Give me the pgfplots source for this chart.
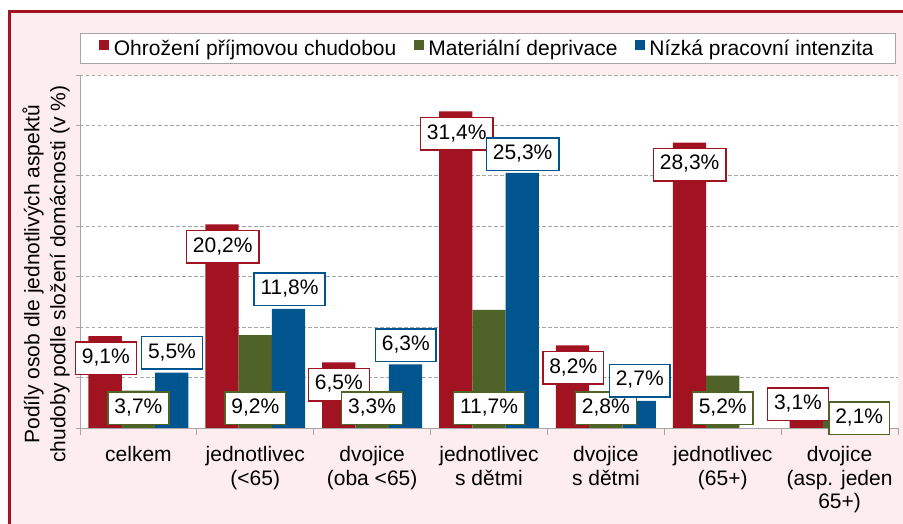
\documentclass[border=0pt]{standalone}
\usepackage{fontspec}
\setmainfont{Liberation Sans}
\usepackage{pgfplots}
\pgfplotsset{compat=1.18}
\definecolor{cred}{HTML}{A21321}
\definecolor{cgreen}{HTML}{4F6228}
\definecolor{cblue}{HTML}{00558F}
\definecolor{bgpink}{HTML}{FDEDEE}
\definecolor{lgray}{HTML}{A6A6A6}
\pgfplotsset{
  mybar/.style={ybar, bar width=0.285, draw=none,
    legend image code/.code={\fill[##1, draw=none] (0pt,-1.5pt) rectangle (10pt,8.5pt); \path (12pt,0pt);}},
  lbl/.style={only marks, mark=none, forget plot,
    point meta=explicit symbolic,
    nodes near coords={\pgfplotspointmeta\%},
    every node near coord/.append style={anchor=center, draw=#1, line width=1.5pt,
      fill=white, text=black, inner xsep=6.5pt, inner ysep=6.5pt,
      text height=15pt, text depth=4.5pt, font=\fontsize{21}{24}\selectfont}},
}
\begin{document}
\begin{tikzpicture}
\useasboundingbox (0pt,0pt) rectangle (903pt,524pt);
\fill[white] (0pt,0pt) rectangle (903pt,524pt);
\fill[bgpink] (9pt,0pt) rectangle (903pt,512pt);
\draw[cred, line width=3pt] (9.5pt,0pt) -- (9.5pt,512pt) -- (903pt,512pt);
\begin{axis}[
  at={(80pt,96pt)}, anchor=south west,
  scale only axis, width=818pt, height=353pt,
  xmin=-0.5, xmax=6.5, ymin=0, ymax=35,
  clip=false,
  axis background/.style={fill=white},
  axis x line*=bottom, axis y line*=left,
  axis line style={lgray, line width=0.8pt},
  tick align=outside,
  major tick length=4pt,
  ytick={0,5,...,35}, yticklabels={},
  ytick style={draw=lgray, line width=0.8pt},
  ymajorgrids,
  grid style={lgray, line width=0.8pt, dash pattern=on 3.5pt off 2.5pt},
  xtick={0,...,6},
  xticklabels={celkem, {jednotlivec\\(<65)}, {dvojice\\(oba <65)}, {jednotlivec\\s dětmi}, {dvojice\\s dětmi}, {jednotlivec\\(65+)}, {dvojice\\(asp. jeden\\65+)}},
  xtick style={draw=none},
  xticklabel style={align=center, font=\fontsize{21}{23.5}\selectfont, yshift=-11pt},
  extra x ticks={-0.5,0.5,...,6.5},
  extra x tick labels={},
  extra x tick style={major tick length=7pt, xtick style={draw=lgray, line width=0.8pt}},
  ylabel={Podíly osob dle jednotlivých aspektů\\chudoby podle složení domácnosti (v \%)},
  ylabel style={align=center, font=\fontsize{21}{26}\selectfont,
    at={(axis description cs:-0.0416,0.436)}, anchor=center},
  legend columns=3,
  legend style={at={(axis description cs:0,1.119)}, anchor=north west,
    draw=lgray, line width=0.8pt, fill=white, font=\fontsize{21}{24}\selectfont,
    inner xsep=19pt, inner ysep=4pt, nodes={inner sep=2.5pt},
    /tikz/every even column/.append style={column sep=15pt}},
]
\addplot[mybar, fill=cred, bar shift=-0.285] coordinates {(0,9.1) (1,20.2) (2,6.5) (3,31.4) (4,8.2) (5,28.3) (6,3.1)};
\addplot[mybar, fill=cgreen, bar shift=0] coordinates {(0,3.7) (1,9.2) (2,3.3) (3,11.7) (4,2.8) (5,5.2) (6,2.1)};
\addplot[mybar, fill=cblue, bar shift=0.285] coordinates {(0,5.5) (1,11.8) (2,6.3) (3,25.3) (4,2.7)};
\legend{Ohrožení příjmovou chudobou, Materiální deprivace, Nízká pracovní intenzita}
\addplot[lbl=cred] table[meta=l] {
x y l
-0.279 6.94 9,1
0.721 17.95 20,2
1.715 4.29 6,5
2.724 29.17 31,4
3.721 5.95 8,2
4.717 26.11 28,3
5.644 2.35 3,1
};
\addplot[lbl=cgreen] table[meta=l] {
x y l
0.0 1.98 3,7
1.0 1.98 9,2
2.0 1.98 3,3
3.0 1.98 11,7
4.0 1.98 2,8
5.0 1.98 5,2
6.168 0.99 2,1
};
\addplot[lbl=cblue] table[meta=l] {
x y l
0.287 7.44 5,5
1.293 13.76 11,8
2.288 8.18 6,3
3.288 27.15 25,3
4.290 4.69 2,7
};
\end{axis}
\end{tikzpicture}
\end{document}
